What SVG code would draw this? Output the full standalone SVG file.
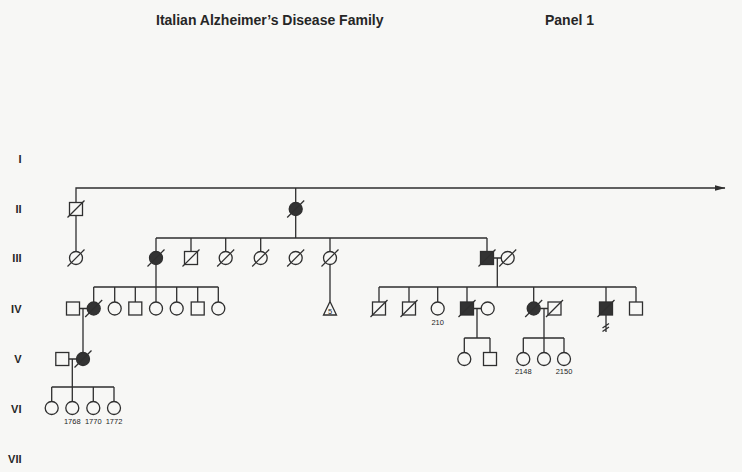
<svg xmlns="http://www.w3.org/2000/svg" xmlns:xlink="http://www.w3.org/1999/xlink" width="742" height="472" viewBox="0 0 742 472">
<style>
.o{fill:#f7f7f5;stroke:#2f2f2f;stroke-width:1.3}
.f{fill:#333;stroke:#2f2f2f;stroke-width:1.3}
.d{stroke:#2f2f2f;stroke-width:1.2}
.ln{fill:none;stroke:#2f2f2f;stroke-width:1.3}
.t{font-family:"Liberation Sans",Arial,sans-serif;font-weight:bold;fill:#262626}
.g{font-family:"Liberation Sans",Arial,sans-serif;font-weight:bold;font-size:11px;fill:#262626;text-anchor:end}
.n{font-family:"Liberation Sans",Arial,sans-serif;font-size:7.5px;fill:#262626;text-anchor:middle}
</style>
<defs>
<circle id="c" r="6.5"/>
<rect id="s" x="-6.5" y="-6.5" width="13" height="13"/>
<line id="sl" x1="-8.5" y1="8.5" x2="8.5" y2="-8.5"/>
<marker id="ar" markerWidth="11" markerHeight="7" refX="10.5" refY="3.5" orient="auto" markerUnits="userSpaceOnUse">
<path d="M0,0.5 L11,3.5 L0,6.5 Z" fill="#2f2f2f"/>
</marker>
</defs>
<rect width="742" height="472" fill="#f7f7f5"/>
<text class="t" x="156" y="24.5" font-size="14">Italian Alzheimer’s Disease Family</text>
<text class="t" x="545" y="24.5" font-size="14">Panel 1</text>
<g id="generations">
<text class="g" x="21.5" y="163">I</text>
<text class="g" x="21.5" y="212.5">II</text>
<text class="g" x="21.5" y="262">III</text>
<text class="g" x="21.5" y="312.5">IV</text>
<text class="g" x="21.5" y="362.5">V</text>
<text class="g" x="21.5" y="412.5">VI</text>
<text class="g" x="21.5" y="463">VII</text>
</g>
<g id="connectors" class="ln">
<path d="M76,202.5 V188 H725" marker-end="url(#ar)"/>
<path d="M295.7,188 V202.5 M295.7,215.5 V238"/>
<path d="M76,215.5 V251.5"/>
<path d="M156,238 H487 M156,238 V251.5 M191,238 V251.5 M225.7,238 V251.5 M260.7,238 V251.5 M330,238 V251.5 M487,238 V251.5"/>
<path d="M330,264.5 V301.5"/>
<path d="M493.5,258 H501.2 M497.3,258 V287 M379,287 H636 M379,287 V302 M409,287 V302 M437.7,287 V302 M467,287 V302 M533.7,287 V302 M606,287 V302 M636,287 V302"/>
<path d="M156,264.5 V287 M93.7,287 H218.3 M93.7,287 V302 M114.7,287 V302 M135.3,287 V302 M156,287 V302 M176.7,287 V302 M197.7,287 V302 M218.3,287 V302"/>
<path d="M79.5,308.5 H87.2 M83,308.5 V352.5"/>
<path d="M68.8,359 H76.5 M72.3,359 V387 M51.7,387 H114 M51.7,387 V401.5 M72.3,387 V401.5 M93.3,387 V401.5 M114,387 V401.5"/>
<path d="M473.5,308.5 H481.2 M477,308.5 V338 M464.3,338 H490 M464.3,338 V352.5 M490,338 V352.5"/>
<path d="M540.2,308.5 H548 M544,308.5 V338 M523.3,338 H564 M523.3,338 V352.5 M544,338 V352.5 M564,338 V352.5"/>
<path d="M606,315 V332 M602.5,328 L609,323.5 M602.5,331.5 L609,327"/>
</g>
<g id="n2_1"><use xlink:href="#s" class="o" x="76" y="209"/><use xlink:href="#sl" class="d" x="76" y="209"/></g>
<g id="n2_2"><use xlink:href="#c" class="f" x="295.7" y="209"/><use xlink:href="#sl" class="d" x="295.7" y="209"/></g>
<g id="n3_1"><use xlink:href="#c" class="o" x="76" y="258"/><use xlink:href="#sl" class="d" x="76" y="258"/></g>
<g id="n3_2"><use xlink:href="#c" class="f" x="156" y="258"/><use xlink:href="#sl" class="d" x="156" y="258"/></g>
<g id="n3_3"><use xlink:href="#s" class="o" x="191" y="258"/><use xlink:href="#sl" class="d" x="191" y="258"/></g>
<g id="n3_4"><use xlink:href="#c" class="o" x="225.7" y="258"/><use xlink:href="#sl" class="d" x="225.7" y="258"/></g>
<g id="n3_5"><use xlink:href="#c" class="o" x="260.7" y="258"/><use xlink:href="#sl" class="d" x="260.7" y="258"/></g>
<g id="n3_6"><use xlink:href="#c" class="o" x="295.7" y="258"/><use xlink:href="#sl" class="d" x="295.7" y="258"/></g>
<g id="n3_7"><use xlink:href="#c" class="o" x="330" y="258"/><use xlink:href="#sl" class="d" x="330" y="258"/></g>
<g id="n3_8"><use xlink:href="#s" class="f" x="487" y="258"/><use xlink:href="#sl" class="d" x="487" y="258"/></g>
<g id="n3_9"><use xlink:href="#c" class="o" x="507.7" y="258"/><use xlink:href="#sl" class="d" x="507.7" y="258"/></g>
<g id="n4_1"><use xlink:href="#s" class="o" x="73" y="308.5"/></g>
<g id="n4_2"><use xlink:href="#c" class="f" x="93.7" y="308.5"/><use xlink:href="#sl" class="d" x="93.7" y="308.5"/></g>
<g id="n4_3"><use xlink:href="#c" class="o" x="114.7" y="308.5"/></g>
<g id="n4_4"><use xlink:href="#s" class="o" x="135.3" y="308.5"/></g>
<g id="n4_5"><use xlink:href="#c" class="o" x="156" y="308.5"/></g>
<g id="n4_6"><use xlink:href="#c" class="o" x="176.7" y="308.5"/></g>
<g id="n4_7"><use xlink:href="#s" class="o" x="197.7" y="308.5"/></g>
<g id="n4_8"><use xlink:href="#c" class="o" x="218.3" y="308.5"/></g>
<g id="n4_9"><path class="o" d="M330,301.5 L336.5,315 L323.5,315 Z"/><text class="n" x="330" y="313.8" font-size="7">5</text></g>
<g id="n4_10"><use xlink:href="#s" class="o" x="379" y="308.5"/><use xlink:href="#sl" class="d" x="379" y="308.5"/></g>
<g id="n4_11"><use xlink:href="#s" class="o" x="409" y="308.5"/><use xlink:href="#sl" class="d" x="409" y="308.5"/></g>
<g id="n4_12"><use xlink:href="#c" class="o" x="437.7" y="308.5"/><text class="n" x="437.7" y="324.5">210</text></g>
<g id="n4_13"><use xlink:href="#s" class="f" x="467" y="308.5"/><use xlink:href="#sl" class="d" x="467" y="308.5"/></g>
<g id="n4_14"><use xlink:href="#c" class="o" x="487.7" y="308.5"/></g>
<g id="n4_15"><use xlink:href="#c" class="f" x="533.7" y="308.5"/><use xlink:href="#sl" class="d" x="533.7" y="308.5"/></g>
<g id="n4_16"><use xlink:href="#s" class="o" x="554.5" y="308.5"/><use xlink:href="#sl" class="d" x="554.5" y="308.5"/></g>
<g id="n4_17"><use xlink:href="#s" class="f" x="606" y="308.5"/><use xlink:href="#sl" class="d" x="606" y="308.5"/></g>
<g id="n4_18"><use xlink:href="#s" class="o" x="636" y="308.5"/></g>
<g id="n5_1"><use xlink:href="#s" class="o" x="62.3" y="359"/></g>
<g id="n5_2"><use xlink:href="#c" class="f" x="83" y="359"/><use xlink:href="#sl" class="d" x="83" y="359"/></g>
<g id="n5_3"><use xlink:href="#c" class="o" x="464.3" y="359"/></g>
<g id="n5_4"><use xlink:href="#s" class="o" x="490" y="359"/></g>
<g id="n5_5"><use xlink:href="#c" class="o" x="523.3" y="359"/><text class="n" x="523.3" y="374">2148</text></g>
<g id="n5_6"><use xlink:href="#c" class="o" x="544" y="359"/></g>
<g id="n5_7"><use xlink:href="#c" class="o" x="564" y="359"/><text class="n" x="564" y="374">2150</text></g>
<g id="n6_1"><use xlink:href="#c" class="o" x="51.7" y="408"/></g>
<g id="n6_2"><use xlink:href="#c" class="o" x="72.3" y="408"/><text class="n" x="72.3" y="423.5">1768</text></g>
<g id="n6_3"><use xlink:href="#c" class="o" x="93.3" y="408"/><text class="n" x="93.3" y="423.5">1770</text></g>
<g id="n6_4"><use xlink:href="#c" class="o" x="114" y="408"/><text class="n" x="114" y="423.5">1772</text></g>
</svg>
